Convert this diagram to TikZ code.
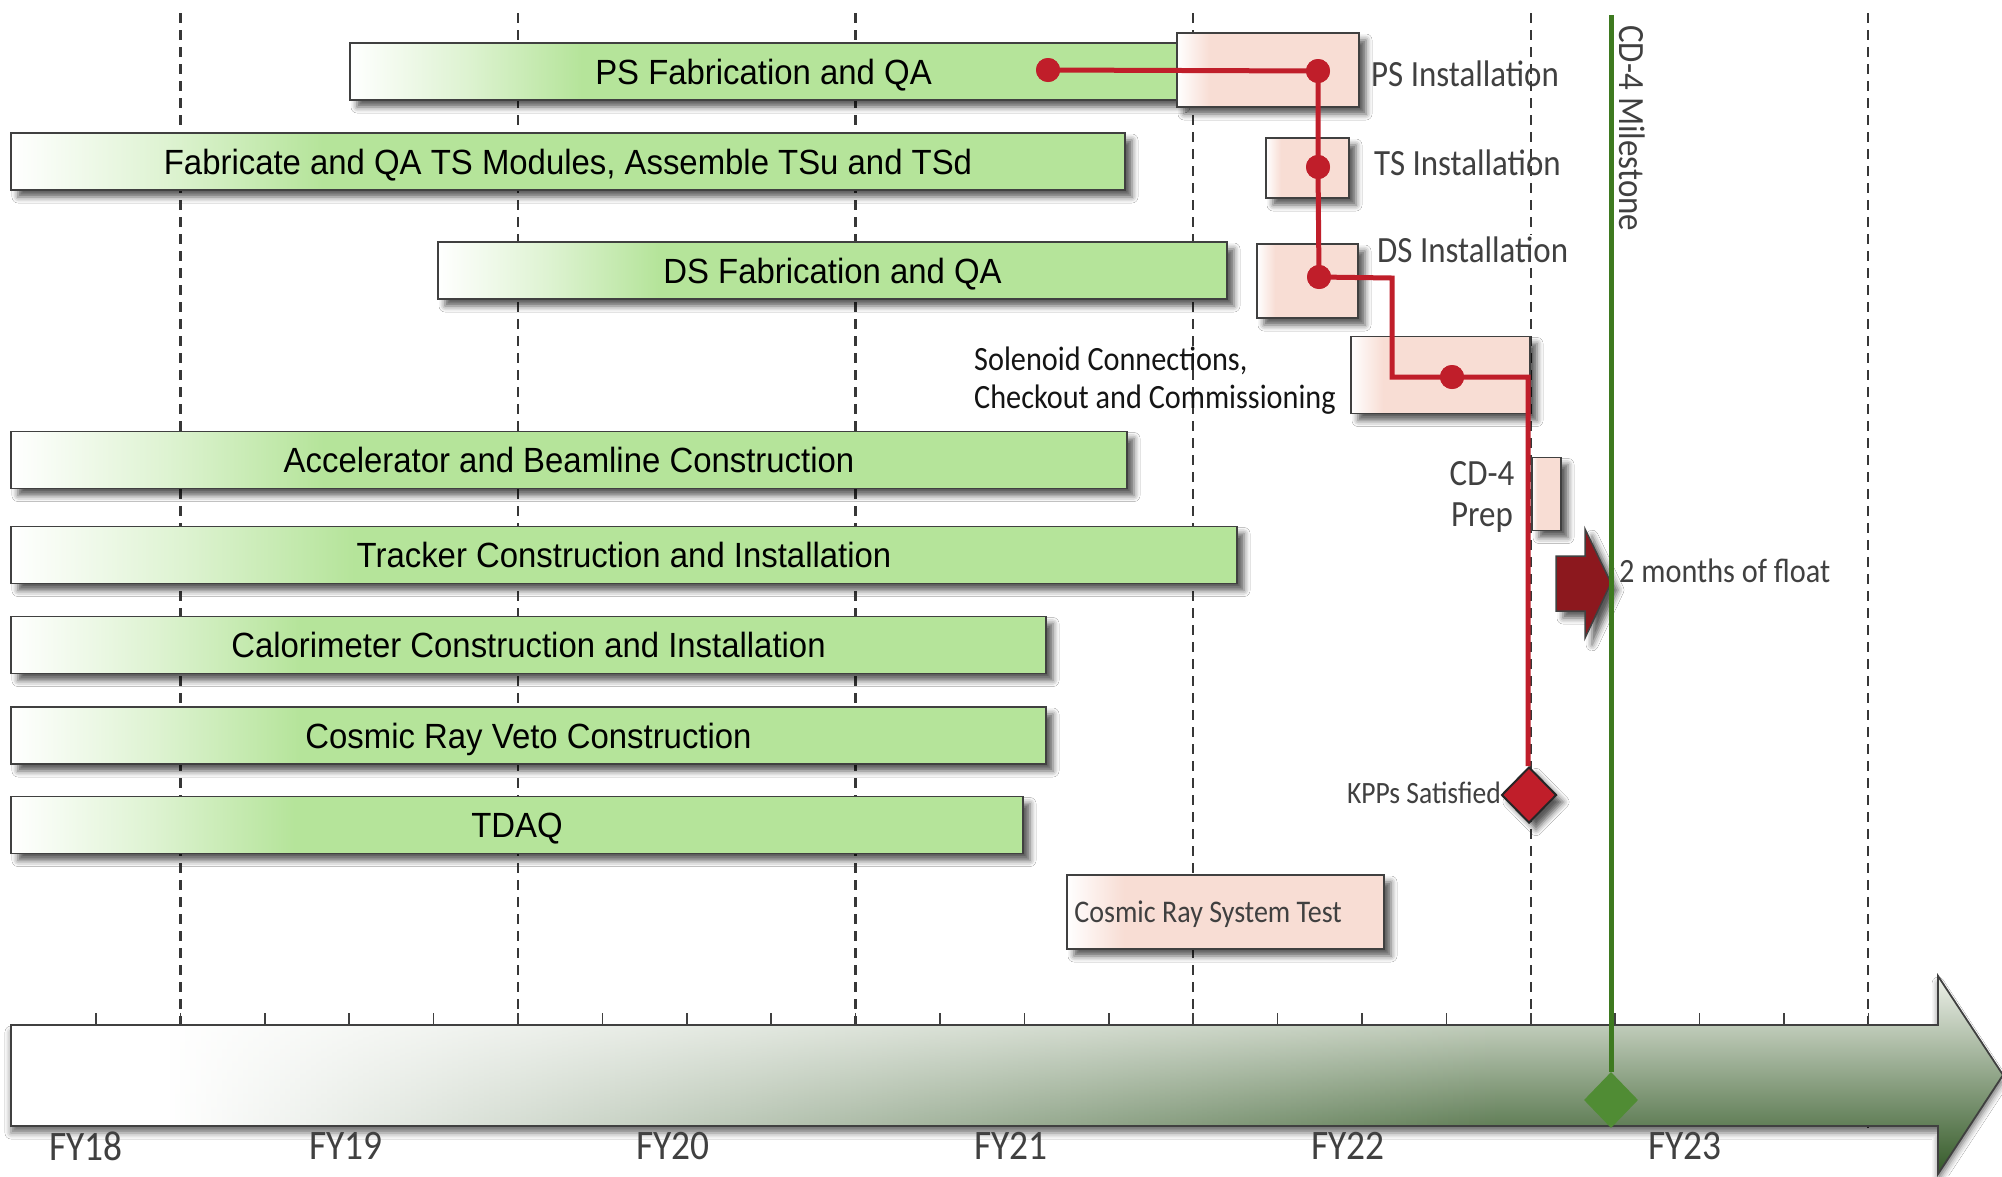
\documentclass[tikz,border=0pt]{standalone}
\usepackage{fontspec}
\setmainfont{Carlito}[FakeStretch=0.89]
\newfontfamily\barfont{Liberation Sans}[FakeStretch=0.94]
\usetikzlibrary{shadows.blur,fadings,shapes.geometric}

\definecolor{barGreen}{RGB}{181,228,154}
\definecolor{boxPink}{RGB}{248,221,212}
\definecolor{edgeGray}{RGB}{64,64,64}
\definecolor{gridGray}{RGB}{55,55,55}
\definecolor{labelGray}{RGB}{64,64,64}
\definecolor{pathRed}{RGB}{192,30,42}
\definecolor{floatRed}{RGB}{140,24,30}
\definecolor{mileGreen}{RGB}{62,122,32}
\definecolor{diaGreen}{RGB}{80,140,52}
\definecolor{axisTop}{RGB}{238,241,234}
\definecolor{axisBot}{RGB}{52,90,40}
\colorlet{barMid}{barGreen!45!white}

% left edge fades from white into the fill colour
\pgfdeclarehorizontalshading{bargrad}{100bp}{color(0bp)=(white); color(25bp)=(white); color(32bp)=(barMid); color(39bp)=(barGreen); color(100bp)=(barGreen)}
\pgfdeclarehorizontalshading{pinkgrad}{100bp}{color(0bp)=(white); color(25bp)=(white); color(34bp)=(boxPink); color(100bp)=(boxPink)}

\tikzset{
  softshadow/.style={blur shadow={shadow xshift=7pt, shadow yshift=-7pt, shadow blur radius=6pt, shadow opacity=65}},
  taskbar/.style={draw=edgeGray, line width=1.6pt, shade, shading=bargrad, inner sep=0pt,
    minimum height=57pt, softshadow, text=black, text height=25pt, text depth=0pt,
    font=\barfont\fontsize{35}{42}\selectfont},
  instbox/.style={draw=edgeGray, line width=1.6pt, shade, shading=pinkgrad, inner sep=0pt, softshadow},
  lbl/.style={inner sep=0pt, text=labelGray, font=\fontsize{37}{44}\selectfont},
  yearlbl/.style={inner sep=0pt, text=labelGray, font=\fontsize{42}{48}\selectfont},
  gridline/.style={draw=gridGray, line width=2.4pt, dash pattern=on 10pt off 7pt},
  axistick/.style={draw=edgeGray, line width=1.6pt},
  redpath/.style={draw=pathRed, line width=5pt, line join=miter},
  reddot/.style={circle, fill=pathRed, inner sep=0pt, minimum size=24pt},
}

\begin{document}
\begin{tikzpicture}[x=1pt, y=-1pt]
\fill[white] (0,0) rectangle (2002,1176);
\useasboundingbox (0,0) rectangle (2002,1176);

% fiscal-year grid
\foreach \k in {0,...,4}
  \draw[gridline] ({180.3+337.6*\k},13) -- ({180.3+337.6*\k},1025);
\draw[gridline] (1868,13) -- (1868,1135);

% fabrication and construction tasks
\node[taskbar, minimum width=827pt] (psfab) at (763.5,71.5) {PS Fabrication and QA};
\node[taskbar, minimum width=1114pt] (tsfab) at (568,161.5) {Fabricate and QA TS Modules, Assemble TSu and TSd};
\node[taskbar, minimum width=789pt] (dsfab) at (832.5,270.5) {DS Fabrication and QA};
\node[taskbar, minimum width=1116pt] (accel) at (569,460) {Accelerator and Beamline Construction};
\node[taskbar, minimum width=1226pt] (trk) at (624,555) {Tracker Construction and Installation};
\node[taskbar, minimum width=1035pt] (calo) at (528.5,645) {Calorimeter Construction and Installation};
\node[taskbar, minimum width=1035pt] (crv) at (528.5,735.5) {Cosmic Ray Veto Construction};
\node[taskbar, minimum width=1012pt] (tdaq) at (517,825) {TDAQ};

% installation and commissioning steps
\node[instbox, minimum width=182pt, minimum height=74pt] (psinst) at (1268,70) {};
\node[instbox, minimum width=83pt, minimum height=60pt] (tsinst) at (1307.5,168) {};
\node[instbox, minimum width=101pt, minimum height=74pt] (dsinst) at (1307.5,281) {};
\node[instbox, minimum width=179pt, minimum height=77pt] (solcon) at (1440.5,375) {};
\node[instbox, minimum width=29pt, minimum height=73pt] (prep) at (1546.5,494) {};
\node[instbox, minimum width=317pt, minimum height=74pt] (crst) at (1225.5,912) {};
\node[lbl, anchor=west, font=\fontsize{31.5}{36}\selectfont] (crstlbl) at ([xshift=8pt, yshift=-2pt]crst.west) {Cosmic Ray System Test};

% KPP milestone
\node[diamond, fill=pathRed, draw=black!85, line width=2pt, inner sep=0pt,
      minimum width=55pt, minimum height=56pt, softshadow] (kpp) at (1529,795) {};

% critical path
\node[reddot] (d0) at (1048,70) {};
\node[reddot] (d1) at (1318,71) {};
\node[reddot] (d2) at (1318,167) {};
\node[reddot] (d3) at (1319,277) {};
\node[reddot] (d4) at (1452,377) {};
\coordinate (c1) at (1392,278);
\coordinate (c2) at (1392,377);
\coordinate (c3) at (1528,377);
\draw[redpath] (d0.center) -- (d1.center) -- (d2.center) -- (d3.center) -- (c1) -- (c2) -- (d4.center) -- (c3) -- (kpp.north -| c3);
\node[reddot] at (d0) {};
\node[reddot] at (d1) {};
\node[reddot] at (d2) {};
\node[reddot] at (d3) {};
\node[reddot] at (d4) {};

% float arrow
\draw[draw=edgeGray, line width=1.5pt, fill=floatRed, softshadow, line join=miter]
  (1556,556) -- (1585,556) -- (1585,529) -- (1611,583) -- (1585,638) -- (1585,611) -- (1556,611) -- cycle;

% time axis
\foreach \j in {0,...,21}
  \draw[axistick] ({96+84.4*\j},1013) -- ({96+84.4*\j},1025);
\path[top color=axisTop, bottom color=axisBot,
      blur shadow={shadow xshift=0pt, shadow yshift=-7pt, shadow blur radius=6pt, shadow opacity=55}]
  (11,1025) -- (1938,1025) -- (1938,976) -- (2003,1075) -- (1938,1174) -- (1938,1126) -- (11,1126) -- cycle;
\fill[white] (11,1025) rectangle (170,1126);
\fill[white, path fading=east] (169,1025) rectangle (1500,1126);
\draw[draw=edgeGray, line width=1.8pt, line join=miter]
  (11,1025) -- (1938,1025) -- (1938,976) -- (2003,1075) -- (1938,1174) -- (1938,1126) -- (11,1126) -- cycle;

% CD-4 milestone
\node[diamond, fill=diaGreen, inner sep=0pt, minimum width=54pt, minimum height=56pt] (cdfour) at (1611,1100) {};
\coordinate (mtop) at (1611,15);
\draw[draw=mileGreen, line width=5pt] (mtop) -- (cdfour.north);

% labels
\node[lbl, anchor=west] (pslbl) at (1371,74) {PS Installation};
\node[lbl, anchor=west] (tslbl) at (1374,163) {TS Installation};
\node[lbl, anchor=west, fill=white, inner sep=2pt] (dslbl) at (1375,250) {DS Installation};
\node[lbl, anchor=west, align=left, text=black!92, font=\fontsize{34}{38}\selectfont] (sollbl) at (974,381) {Solenoid Connections,\\Checkout and Commissioning};
\node[lbl, align=center, font=\fontsize{37}{41}\selectfont] (preplbl) at (1482,497) {CD-4\\Prep};
\node[lbl, anchor=west, font=\fontsize{34}{40}\selectfont] (floatlbl) at (1619,571) {2 months of float};
\node[lbl, anchor=east, font=\fontsize{31}{36}\selectfont] (kpplbl) at (1501,793) {KPPs Satisfied};
\node[lbl, anchor=west, rotate=-90] (milelbl) at (1632,25) {CD-4 Milestone};

% fiscal years
\node[yearlbl] (fy18) at (86,1146) {FY18};
\node[yearlbl] (fy19) at (346,1146) {FY19};
\node[yearlbl] (fy20) at (673,1146) {FY20};
\node[yearlbl] (fy21) at (1011,1146) {FY21};
\node[yearlbl] (fy22) at (1348,1146) {FY22};
\node[yearlbl] (fy23) at (1685,1146) {FY23};
\end{tikzpicture}
\end{document}
